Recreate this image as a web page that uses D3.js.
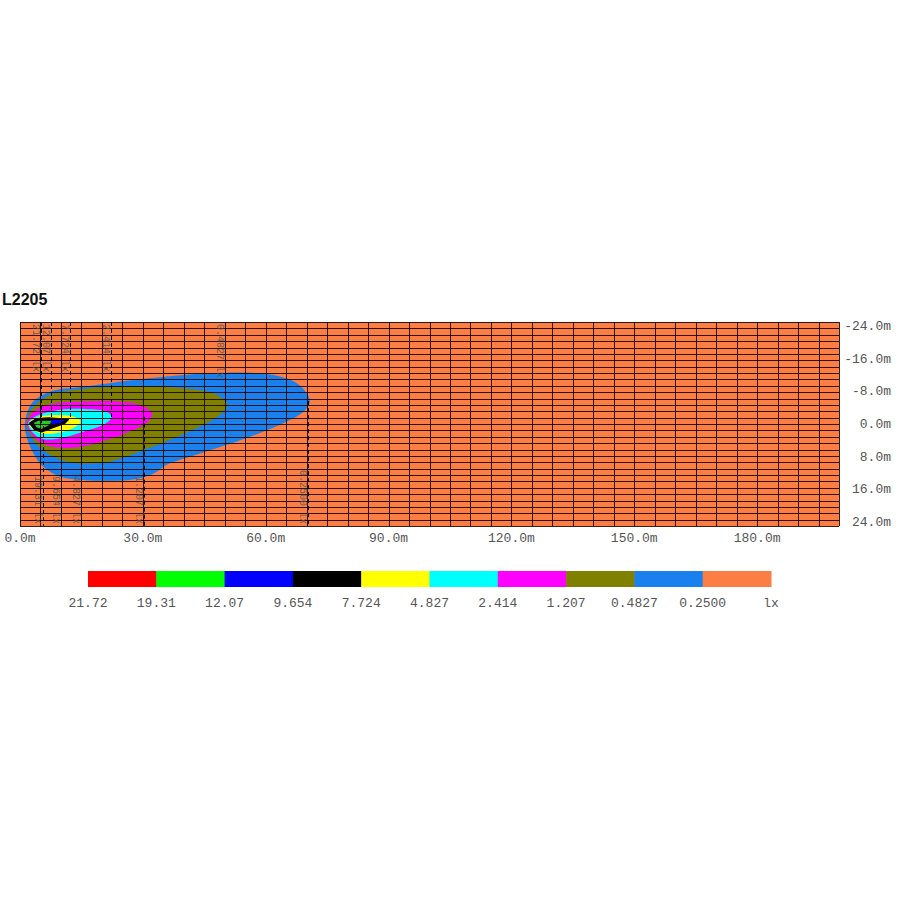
<!DOCTYPE html>
<html><head><meta charset="utf-8">
<script src="https://cdn.jsdelivr.net/npm/d3@7"></script>
<style>body{margin:0;background:#fff}svg{display:block}</style>
</head><body>
<script>
// ---- data ----
const title = "L2205";
const xTicks = [0, 30, 60, 90, 120, 150, 180];
const yTicks = [-24, -16, -8, 0, 8, 16, 24];
const legendLabels = ["21.72","19.31","12.07","9.654","7.724","4.827","2.414","1.207","0.4827","0.2500","lx"];
const legendColors = ["#ff0000","#00ff00","#0000ff","#000000","#ffff00","#00ffff","#ff00ff","#808000","#1a80ee","#fb7f45"];

// isolux contours [x m, y m]
const c0250 = [[1.2,-0.2],[2.9,-5.1],[7.3,-7.9],[15.5,-9.1],[27.7,-10.8],[39.9,-12.0],[52.1,-12.6],[61.9,-12.0],[67.6,-10.0],[70.0,-7.5],[70.8,-5.5],[69.2,-3.0],[64.3,-0.2],[56.2,3.1],[44.0,7.2],[35.8,10.0],[33.4,11.7],[29.3,13.3],[23.6,13.9],[15.5,13.7],[9.8,12.9],[5.7,10.5],[3.3,7.2],[1.6,3.1]];
const c0483 = [[1.5,-0.2],[3.3,-4.2],[7.3,-7.1],[15.5,-8.6],[27.7,-9.1],[39.9,-8.7],[47.2,-7.5],[50.5,-5.1],[49.6,-3.0],[45.6,-0.2],[38.3,3.1],[30.1,6.4],[22.0,9.2],[13.8,9.6],[8.1,8.0],[4.1,5.1],[2.4,2.3]];
const c1207 = [[1.7,-0.2],[3.3,-3.0],[6.5,-4.7],[15.5,-5.5],[23.6,-5.5],[29.3,-4.7],[32.2,-2.6],[31.3,-0.6],[27.7,1.5],[21.2,3.9],[13.8,5.7],[8.1,5.6],[4.1,3.9],[2.2,1.5]];
const c2414 = [[2.0,-0.2],[4.1,-2.0],[9.0,-3.4],[16.3,-3.7],[21.2,-3.0],[22.4,-1.6],[20.3,0.2],[15.5,1.9],[9.8,3.5],[5.7,3.7],[3.3,2.3]];
const c4827 = [[2.2,-0.2],[4.1,-1.6],[9.0,-2.2],[13.4,-1.7],[14.8,-0.6],[13.4,0.8],[9.8,2.1],[5.7,2.4],[3.3,1.5]];
const c7724 = [[2.4,-0.2],[4.0,-1.3],[7.0,-1.5],[11.8,-1.1],[10.9,-0.2],[8.5,0.7],[5.3,1.9],[3.6,1.4]];
const c9654 = [[7.6,-1.0],[11.0,-1.0],[10.0,-0.3],[7.6,0.1]];
const c1207b = [[3.4,-0.3],[4.5,-0.8],[7.6,-0.8],[7.3,0.2],[5.2,1.2],[4.0,0.8]];

// leader lines with labels
const leaderVals = ["21.72","19.31","12.07","9.654","7.724","4.827","2.414","1.207","0.4827","0.2500"];
const leaderX = [5.1, 5.6, 7.5, 9.9, 12.1, 14.9, 22.2, 30.3, 50.1, 70.3];
const leaderTipY = [-0.2, 0.5, -1.0, 0.3, -1.1, 0.6, -1.6, -1.8, -5.2, -5.6];

// ---- drawing ----
const W = 900, H = 900;
const svg = d3.select("body").append("svg").attr("width", W).attr("height", H);
const x = d3.scaleLinear().domain([0, 200]).range([20, 839]);
const y = d3.scaleLinear().domain([-25, 25]).range([322, 526]);
const mono = "'Liberation Mono','Courier New',monospace";

svg.append("text").attr("x", 2).attr("y", 305).text(title)
  .attr("font-family", "'Liberation Sans',Arial,sans-serif").attr("font-weight", "bold")
  .attr("font-size", 16).attr("fill", "#111");

const g = svg.append("g");
g.append("rect").attr("x", x(0)).attr("y", y(-25)).attr("width", x(200) - x(0)).attr("height", y(25) - y(-25))
  .attr("fill", "#fb7f45");

const smooth = d3.line().x(d => x(d[0])).y(d => y(d[1])).curve(d3.curveCatmullRomClosed.alpha(0.5));
const linear = d3.line().x(d => x(d[0])).y(d => y(d[1])).curve(d3.curveLinearClosed);

[[c0250, "#1a80ee"], [c0483, "#808000"], [c1207, "#ff00ff"], [c2414, "#00ffff"], [c4827, "#ffff00"]]
  .forEach(([pts, col]) => g.append("path").attr("d", smooth(pts)).attr("fill", col));
g.append("path").attr("d", linear(c7724)).attr("fill", "#000").attr("stroke", "#000").attr("stroke-width", 1.5).attr("stroke-linejoin", "round");
g.append("path").attr("d", linear(c9654)).attr("fill", "#0000ff");
g.append("path").attr("d", linear(c1207b)).attr("fill", "#22cc22");

// grid
const grid = g.append("g").attr("stroke", "#1c0800").attr("stroke-opacity", 0.9).attr("stroke-width", 1);
d3.range(0, 201, 5).forEach(v => grid.append("line").attr("x1", Math.round(x(v)) + 0.5).attr("x2", Math.round(x(v)) + 0.5).attr("y1", y(-25)).attr("y2", y(25)));
d3.range(0, 33).forEach(i => {
  const v = -25 + i * 50 / 32;
  grid.append("line").attr("x1", x(0)).attr("x2", x(200)).attr("y1", Math.round(y(v)) + 0.5).attr("y2", Math.round(y(v)) + 0.5);
});

// leader lines and labels
leaderVals.forEach((lab, i) => {
  const top = i % 2 === 0;
  const lx = Math.round(x(leaderX[i])) + 0.5;
  g.append("line").attr("x1", lx).attr("x2", lx)
    .attr("y1", top ? y(-25) : y(leaderTipY[i])).attr("y2", top ? y(leaderTipY[i]) : y(25))
    .attr("stroke", "#000").attr("stroke-width", 1).attr("stroke-dasharray", "4,3");
  const ty = top ? y(-25) + 2 : y(25) - 2;
  g.append("text").attr("transform", `translate(${lx - 9},${ty}) rotate(90)`)
    .attr("text-anchor", top ? "start" : "end")
    .attr("font-family", mono).attr("font-size", 10).attr("fill", "#555").attr("fill-opacity", 0.9)
    .text(lab + " lx");
});

// axes labels
xTicks.forEach(v => svg.append("text").attr("x", x(v)).attr("y", 542).attr("text-anchor", "middle")
  .attr("font-family", mono).attr("font-size", 13).attr("fill", "#555").text(v.toFixed(1) + "m"));
yTicks.forEach(v => svg.append("text").attr("x", 891).attr("y", y(v) + 4).attr("text-anchor", "end")
  .attr("font-family", mono).attr("font-size", 13).attr("fill", "#555").text(v.toFixed(1) + "m"));

// legend
const lx0 = 88, lx1 = 771;
const lscale = d3.scaleLinear().domain([0, legendColors.length]).range([lx0, lx1]);
legendColors.forEach((c, i) => svg.append("rect").attr("x", lscale(i)).attr("y", 571)
  .attr("width", lscale(i + 1) - lscale(i) + 0.5).attr("height", 16).attr("fill", c));
legendLabels.forEach((t, i) => svg.append("text").attr("x", lscale(i)).attr("y", 607).attr("text-anchor", "middle")
  .attr("font-family", mono).attr("font-size", 13).attr("fill", "#555").text(t));
</script>
</body></html>
